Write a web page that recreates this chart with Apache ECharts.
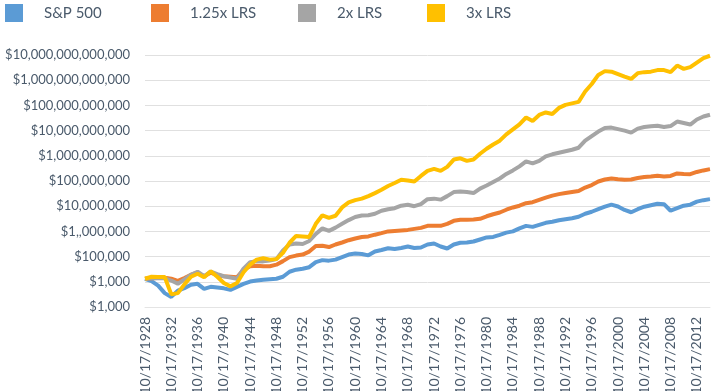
<!DOCTYPE html>
<html><head><meta charset="utf-8">
<script src="https://cdn.jsdelivr.net/npm/echarts@6/dist/echarts.min.js"></script>
<style>html,body{margin:0;padding:0;background:#fff}#c{width:720px;height:391px}</style>
</head><body><div id="c"></div>
<script>
// Years (x categories, labelled 10/17/YYYY)
const years = [];
for (let y = 1928; y <= 2014; y++) years.push('10/17/' + y);

// Y tick labels, bottom to top (as printed in the reference)
const yTickLabels = ["$1,000", "$1,000", "$100,000", "$1,,000,000", "$10,000,000", "$100,000,000",
  "$1,000,000,000", "$10,000,000,000", "$100,000,000,000", "$1,000,000,000,000", "$10,000,000,000,000"];

// Series values, given as log10 of dollar value, one per year 1928..2014
const sp500Log10 = [4.12,4.03,3.85,3.55,3.40,3.65,3.75,3.88,3.92,3.72,3.80,3.77,3.74,3.68,3.80,3.92,4.01,4.05,4.08,4.10,
  4.12,4.20,4.40,4.48,4.52,4.58,4.78,4.86,4.84,4.88,4.98,5.08,5.12,5.10,5.05,5.20,5.26,5.33,5.30,5.34,
  5.40,5.34,5.36,5.48,5.52,5.40,5.32,5.48,5.55,5.56,5.60,5.68,5.76,5.78,5.86,5.95,6.00,6.12,6.22,6.18,
  6.26,6.34,6.38,6.44,6.48,6.52,6.58,6.70,6.78,6.88,6.98,7.06,6.99,6.85,6.76,6.88,6.98,7.04,7.10,7.08,
  6.82,6.92,7.02,7.06,7.18,7.24,7.28];
const lrs125Log10 = [4.12,4.14,4.15,4.16,4.12,4.04,4.15,4.28,4.36,4.22,4.36,4.26,4.22,4.20,4.18,4.48,4.62,4.64,4.62,4.62,
  4.68,4.82,4.98,5.04,5.08,5.20,5.42,5.43,5.38,5.48,5.56,5.65,5.72,5.78,5.80,5.87,5.93,6.00,6.02,6.04,
  6.06,6.10,6.14,6.22,6.22,6.22,6.30,6.42,6.46,6.46,6.47,6.50,6.60,6.68,6.75,6.86,6.95,7.02,7.12,7.16,
  7.25,7.34,7.42,7.48,7.52,7.56,7.60,7.74,7.84,7.98,8.06,8.10,8.07,8.05,8.06,8.12,8.16,8.18,8.21,8.18,
  8.20,8.30,8.28,8.27,8.36,8.42,8.47];
const lrs2Log10 = [4.12,4.15,4.14,4.14,4.05,3.92,4.10,4.28,4.40,4.22,4.40,4.30,4.22,4.17,4.12,4.52,4.78,4.82,4.81,4.84,
  4.90,5.24,5.48,5.52,5.50,5.62,5.90,6.12,6.02,6.15,6.30,6.45,6.57,6.63,6.64,6.70,6.82,6.88,6.92,7.02,
  7.06,7.00,7.08,7.28,7.30,7.26,7.40,7.56,7.58,7.56,7.52,7.70,7.82,7.96,8.10,8.28,8.42,8.58,8.78,8.70,
  8.80,8.98,9.06,9.12,9.18,9.24,9.32,9.60,9.78,9.96,10.10,10.12,10.06,10.00,9.92,10.08,10.14,10.17,10.19,10.14,
  10.18,10.36,10.30,10.24,10.44,10.56,10.63];
const lrs3Log10 = [4.12,4.20,4.19,4.19,3.50,3.55,3.90,4.20,4.32,4.18,4.42,4.20,3.95,3.82,3.95,4.38,4.68,4.88,4.94,4.88,
  4.90,5.15,5.55,5.82,5.80,5.78,6.30,6.64,6.54,6.62,6.95,7.15,7.24,7.30,7.40,7.52,7.65,7.80,7.92,8.05,
  8.02,7.98,8.20,8.40,8.48,8.40,8.56,8.85,8.90,8.80,8.85,9.08,9.28,9.45,9.60,9.85,10.05,10.25,10.52,10.38,
  10.62,10.72,10.66,10.90,11.02,11.08,11.14,11.55,11.85,12.21,12.36,12.34,12.24,12.14,12.05,12.28,12.32,12.34,12.40,12.40,
  12.32,12.58,12.45,12.52,12.70,12.88,12.97];

const seriesNames = ["S&P 500", "1.25x LRS", "2x LRS", "3x LRS"];
const seriesColors = ["#5B9BD5", "#ED7D31", "#A5A5A5", "#FFC000"];
const seriesData = [sp500Log10, lrs125Log10, lrs2Log10, lrs3Log10];
const legendLefts = [0, 146, 293, 422];

const textColor = '#4a5a6b';
const chart = echarts.init(document.getElementById('c'), null, {renderer: 'canvas'});
chart.setOption({
  animation: false,
  color: seriesColors,
  legend: seriesNames.map((n, i) => ({
    top: -1, left: legendLefts[i],
    itemWidth: 18, itemHeight: 18,
    icon: 'rect',
    textStyle: {color: textColor, fontSize: 15, fontFamily: 'Lato, sans-serif', padding: [0, 0, 0, 16]},
    data: [n]
  })),
  grid: {left: 145, right: 10, top: 55, bottom: 84, containLabel: false, outerBoundsMode: 'none'},
  xAxis: {
    type: 'category', data: years, boundaryGap: false,
    axisLine: {show: true, lineStyle: {color: '#e4e4e4'}},
    axisTick: {show: false},
    axisLabel: {interval: 3, rotate: 90, margin: 10, color: textColor, fontSize: 14, fontFamily: 'Lato, sans-serif'}
  },
  yAxis: {
    type: 'log', logBase: 10, min: 1e3, max: 1e13,
    splitLine: {lineStyle: {color: '#e0e0e0', width: 1}},
    axisLine: {show: false}, axisTick: {show: false},
    axisLabel: {
      margin: 15, color: textColor, fontSize: 13, fontFamily: 'Lato, sans-serif',
      formatter: v => yTickLabels[Math.round(Math.log10(v)) - 3] || ''
    }
  },
  series: seriesData.map((d, i) => ({
    name: seriesNames[i], type: 'line', showSymbol: false, symbol: 'none',
    lineStyle: {width: 4, color: seriesColors[i]},
    itemStyle: {color: seriesColors[i]},
    z: 2 + i,
    data: d.map(v => Math.pow(10, v))
  }))
});
</script></body></html>
